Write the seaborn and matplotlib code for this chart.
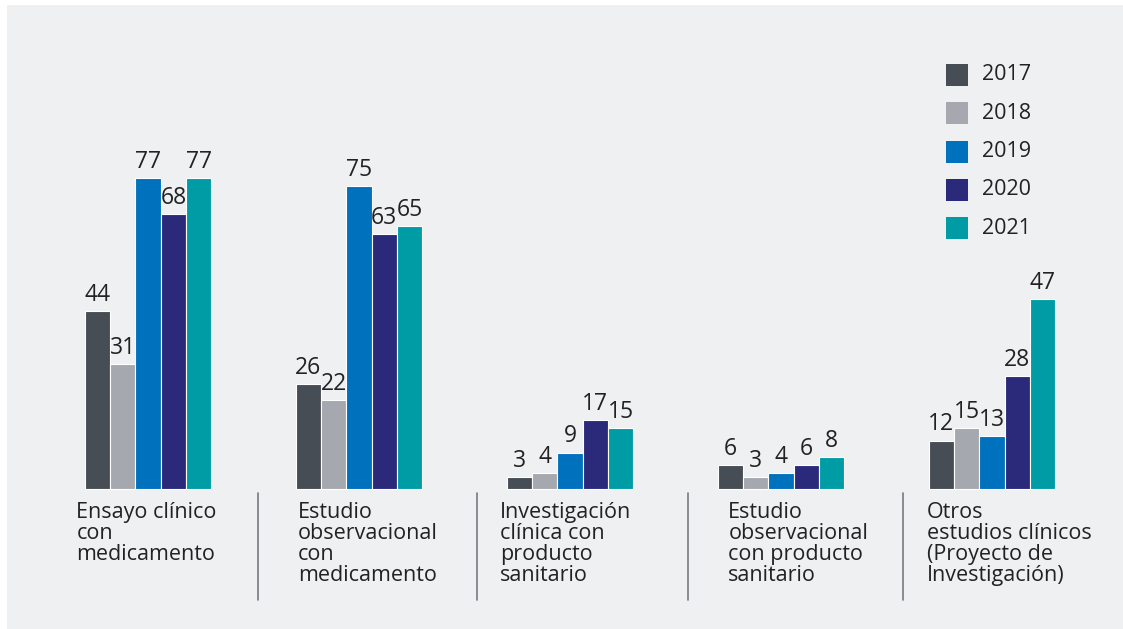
import pandas as pd
import numpy as np
import matplotlib.pyplot as plt
import seaborn as sns
from matplotlib.patches import Rectangle

# Data
categories = [
    "Ensayo clínico\ncon\nmedicamento",
    "Estudio\nobservacional\ncon\nmedicamento",
    "Investigación\nclínica con\nproducto\nsanitario",
    "Estudio\nobservacional\ncon producto\nsanitario",
    "Otros\nestudios clínicos\n(Proyecto de\nInvestigación)",
]
years = ["2017", "2018", "2019", "2020", "2021"]
v2017 = [44, 26, 3, 6, 12]
v2018 = [31, 22, 4, 3, 15]
v2019 = [77, 75, 9, 4, 13]
v2020 = [68, 63, 17, 6, 28]
v2021 = [77, 65, 15, 8, 47]

colors = ["#474d54", "#a5a8ae", "#0071bc", "#2b2a7a", "#009ca6"]
bg = "#eff0f2"
text_color = "#222222"

rows = []
for yr, vals in zip(years, [v2017, v2018, v2019, v2020, v2021]):
    for cat, v in zip(categories, vals):
        rows.append({"categoria": cat, "anio": yr, "valor": v})
df = pd.DataFrame(rows)

sns.set_theme(style="white")
plt.rcParams["font.family"] = ["Open Sans", "DejaVu Sans"]

W, H = 1123, 629
fig = plt.figure(figsize=(W / 100, H / 100), dpi=100, facecolor="white")
fig.patches.append(
    Rectangle((7 / W, 0), 1 - 7 / W, 1 - 5 / H, transform=fig.transFigure,
              facecolor=bg, edgecolor="none", zorder=-10)
)
ax = fig.add_axes([0, 0, 1, 1])
ax.set_facecolor("none")

sns.barplot(
    data=df, x="categoria", y="valor", hue="anio", palette=colors,
    saturation=1, width=0.6, edgecolor="white", linewidth=0.8, ax=ax,
    legend=False,
)

# pixel mapping: group spacing 211 px, first center at x=148, baseline y=489
px_x = 211.0
px_y = 4.04
ax.set_xlim(-148 / px_x, (W - 148) / px_x)
ax.set_ylim(-(H - 489) / px_y, 489 / px_y)
ax.axis("off")

for cont in ax.containers:
    ax.bar_label(cont, padding=3, fontsize=16.5, color=text_color)

# category labels and separators
label_x = [-0.34, 0.71, 1.67, 2.75, 3.69]
for i, cat in enumerate(categories):
    ax.text(label_x[i], -3.3, cat, ha="left", va="top", fontsize=15.5,
            color=text_color, linespacing=1.0)
for sx in [0.52, 1.56, 2.56, 3.58]:
    ax.plot([sx, sx], [-1.0, -27.5], color="#777a7f", lw=1.2, clip_on=False)

# legend
for i, (yr, c) in enumerate(zip(years, colors)):
    ypix = 75 + i * 38.3
    fig.patches.append(
        Rectangle((946 / W, 1 - (ypix + 11) / H), 22 / W, 22 / H,
                  transform=fig.transFigure, facecolor=c, edgecolor="none")
    )
    fig.text(982 / W, 1 - ypix / H, yr, ha="left", va="center",
             fontsize=15.5, color=text_color)

fig.savefig("out.png", dpi=100, facecolor="white")
